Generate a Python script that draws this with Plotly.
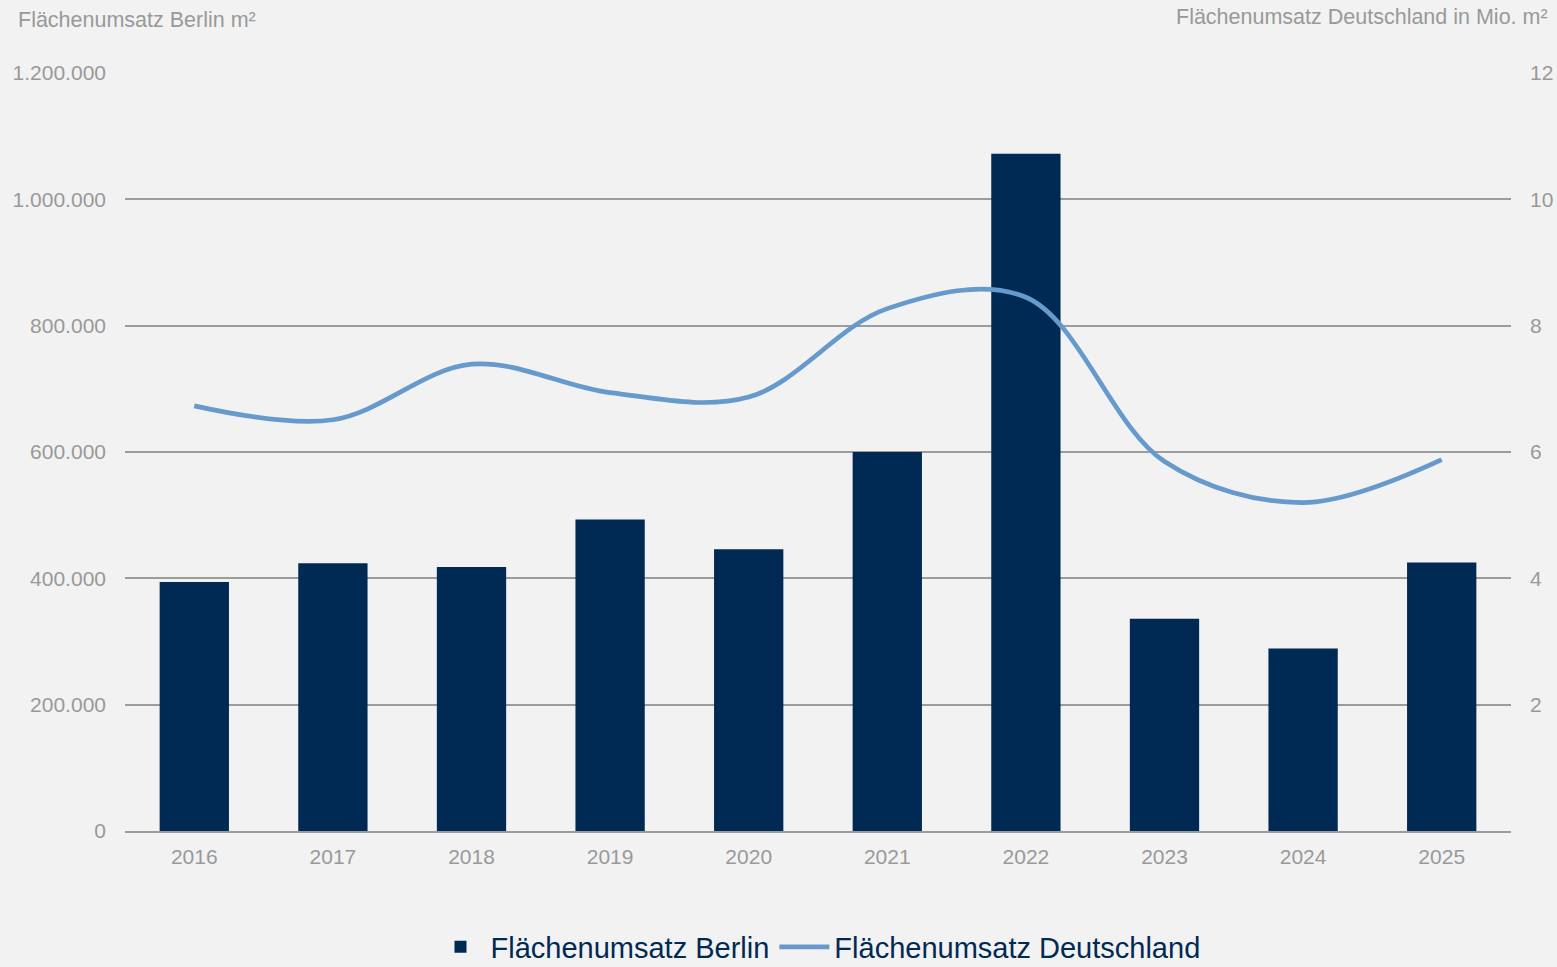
import plotly.graph_objects as go

# Jahre und Werte
jahre = ["2016", "2017", "2018", "2019", "2020", "2021", "2022", "2023", "2024", "2025"]
berlin_m2 = [394000, 424000, 418000, 493000, 446000, 600000, 1072000, 336000, 289000, 425000]
deutschland_mio_m2 = [6.73, 6.51, 7.39, 6.94, 6.87, 8.27, 8.45, 5.85, 5.20, 5.88]

links_ticks = [0, 200000, 400000, 600000, 800000, 1000000, 1200000]
rechts_ticks = [2, 4, 6, 8, 10, 12]

NAVY = "#002a54"
HELLBLAU = "#6699cc"
GRAU = "#999999"
GITTER = "#9c9c9c"
SCHRIFT = "Liberation Sans, Arial, sans-serif"

fig = go.Figure()

fig.add_trace(go.Bar(
    x=jahre, y=berlin_m2, name="Flächenumsatz Berlin",
    marker=dict(color=NAVY, line=dict(width=0)),
    yaxis="y",
))

fig.add_trace(go.Scatter(
    x=jahre, y=deutschland_mio_m2, name="Flächenumsatz Deutschland",
    mode="lines", line=dict(color=HELLBLAU, width=4.7, shape="spline", smoothing=1.0),
    yaxis="y2",
))

fig.update_layout(
    width=1557, height=967,
    margin=dict(l=125, r=46, t=73, b=136, autoexpand=False),
    paper_bgcolor="#f2f2f2", plot_bgcolor="#f2f2f2",
    separators=",.",
    bargap=0.5,
    font=dict(family=SCHRIFT, size=21, color=GRAU),
    showlegend=True,
    legend=dict(
        orientation="h", x=0.5, xanchor="center",
        yref="container", y=20 / 967, yanchor="middle",
        font=dict(size=29, color=NAVY, family=SCHRIFT),
        bgcolor="rgba(0,0,0,0)", itemwidth=50, traceorder="normal",
    ),
    xaxis=dict(
        showgrid=False, showline=True, linecolor=GITTER, linewidth=2,
        ticks="", tickfont=dict(size=21, color=GRAU), ticklabelstandoff=6,
        automargin=False,
    ),
    yaxis=dict(
        range=[0, 1200000], tickvals=links_ticks, tickformat=",d",
        showgrid=True, gridcolor=GITTER, gridwidth=2, zeroline=False,
        showline=False, ticks="", tickfont=dict(size=21, color=GRAU),
        ticklabelstandoff=18, automargin=False,
    ),
    yaxis2=dict(
        range=[0, 12], tickvals=rechts_ticks, overlaying="y", side="right",
        showgrid=False, zeroline=False, showline=False, ticks="",
        tickfont=dict(size=21, color=GRAU), ticklabelstandoff=18,
        automargin=False,
    ),
    annotations=[
        dict(text="Flächenumsatz Berlin m²", xref="paper", yref="paper",
             x=-0.0783, y=1.0, yshift=53, xanchor="left", yanchor="middle",
             showarrow=False, font=dict(size=21.5, color=GRAU)),
        dict(text="Flächenumsatz Deutschland in Mio. m²", xref="paper", yref="paper",
             x=1.0282, y=1.0, yshift=56, xanchor="right", yanchor="middle",
             showarrow=False, font=dict(size=21.5, color=GRAU)),
    ],
)

fig.write_html("out.html")
